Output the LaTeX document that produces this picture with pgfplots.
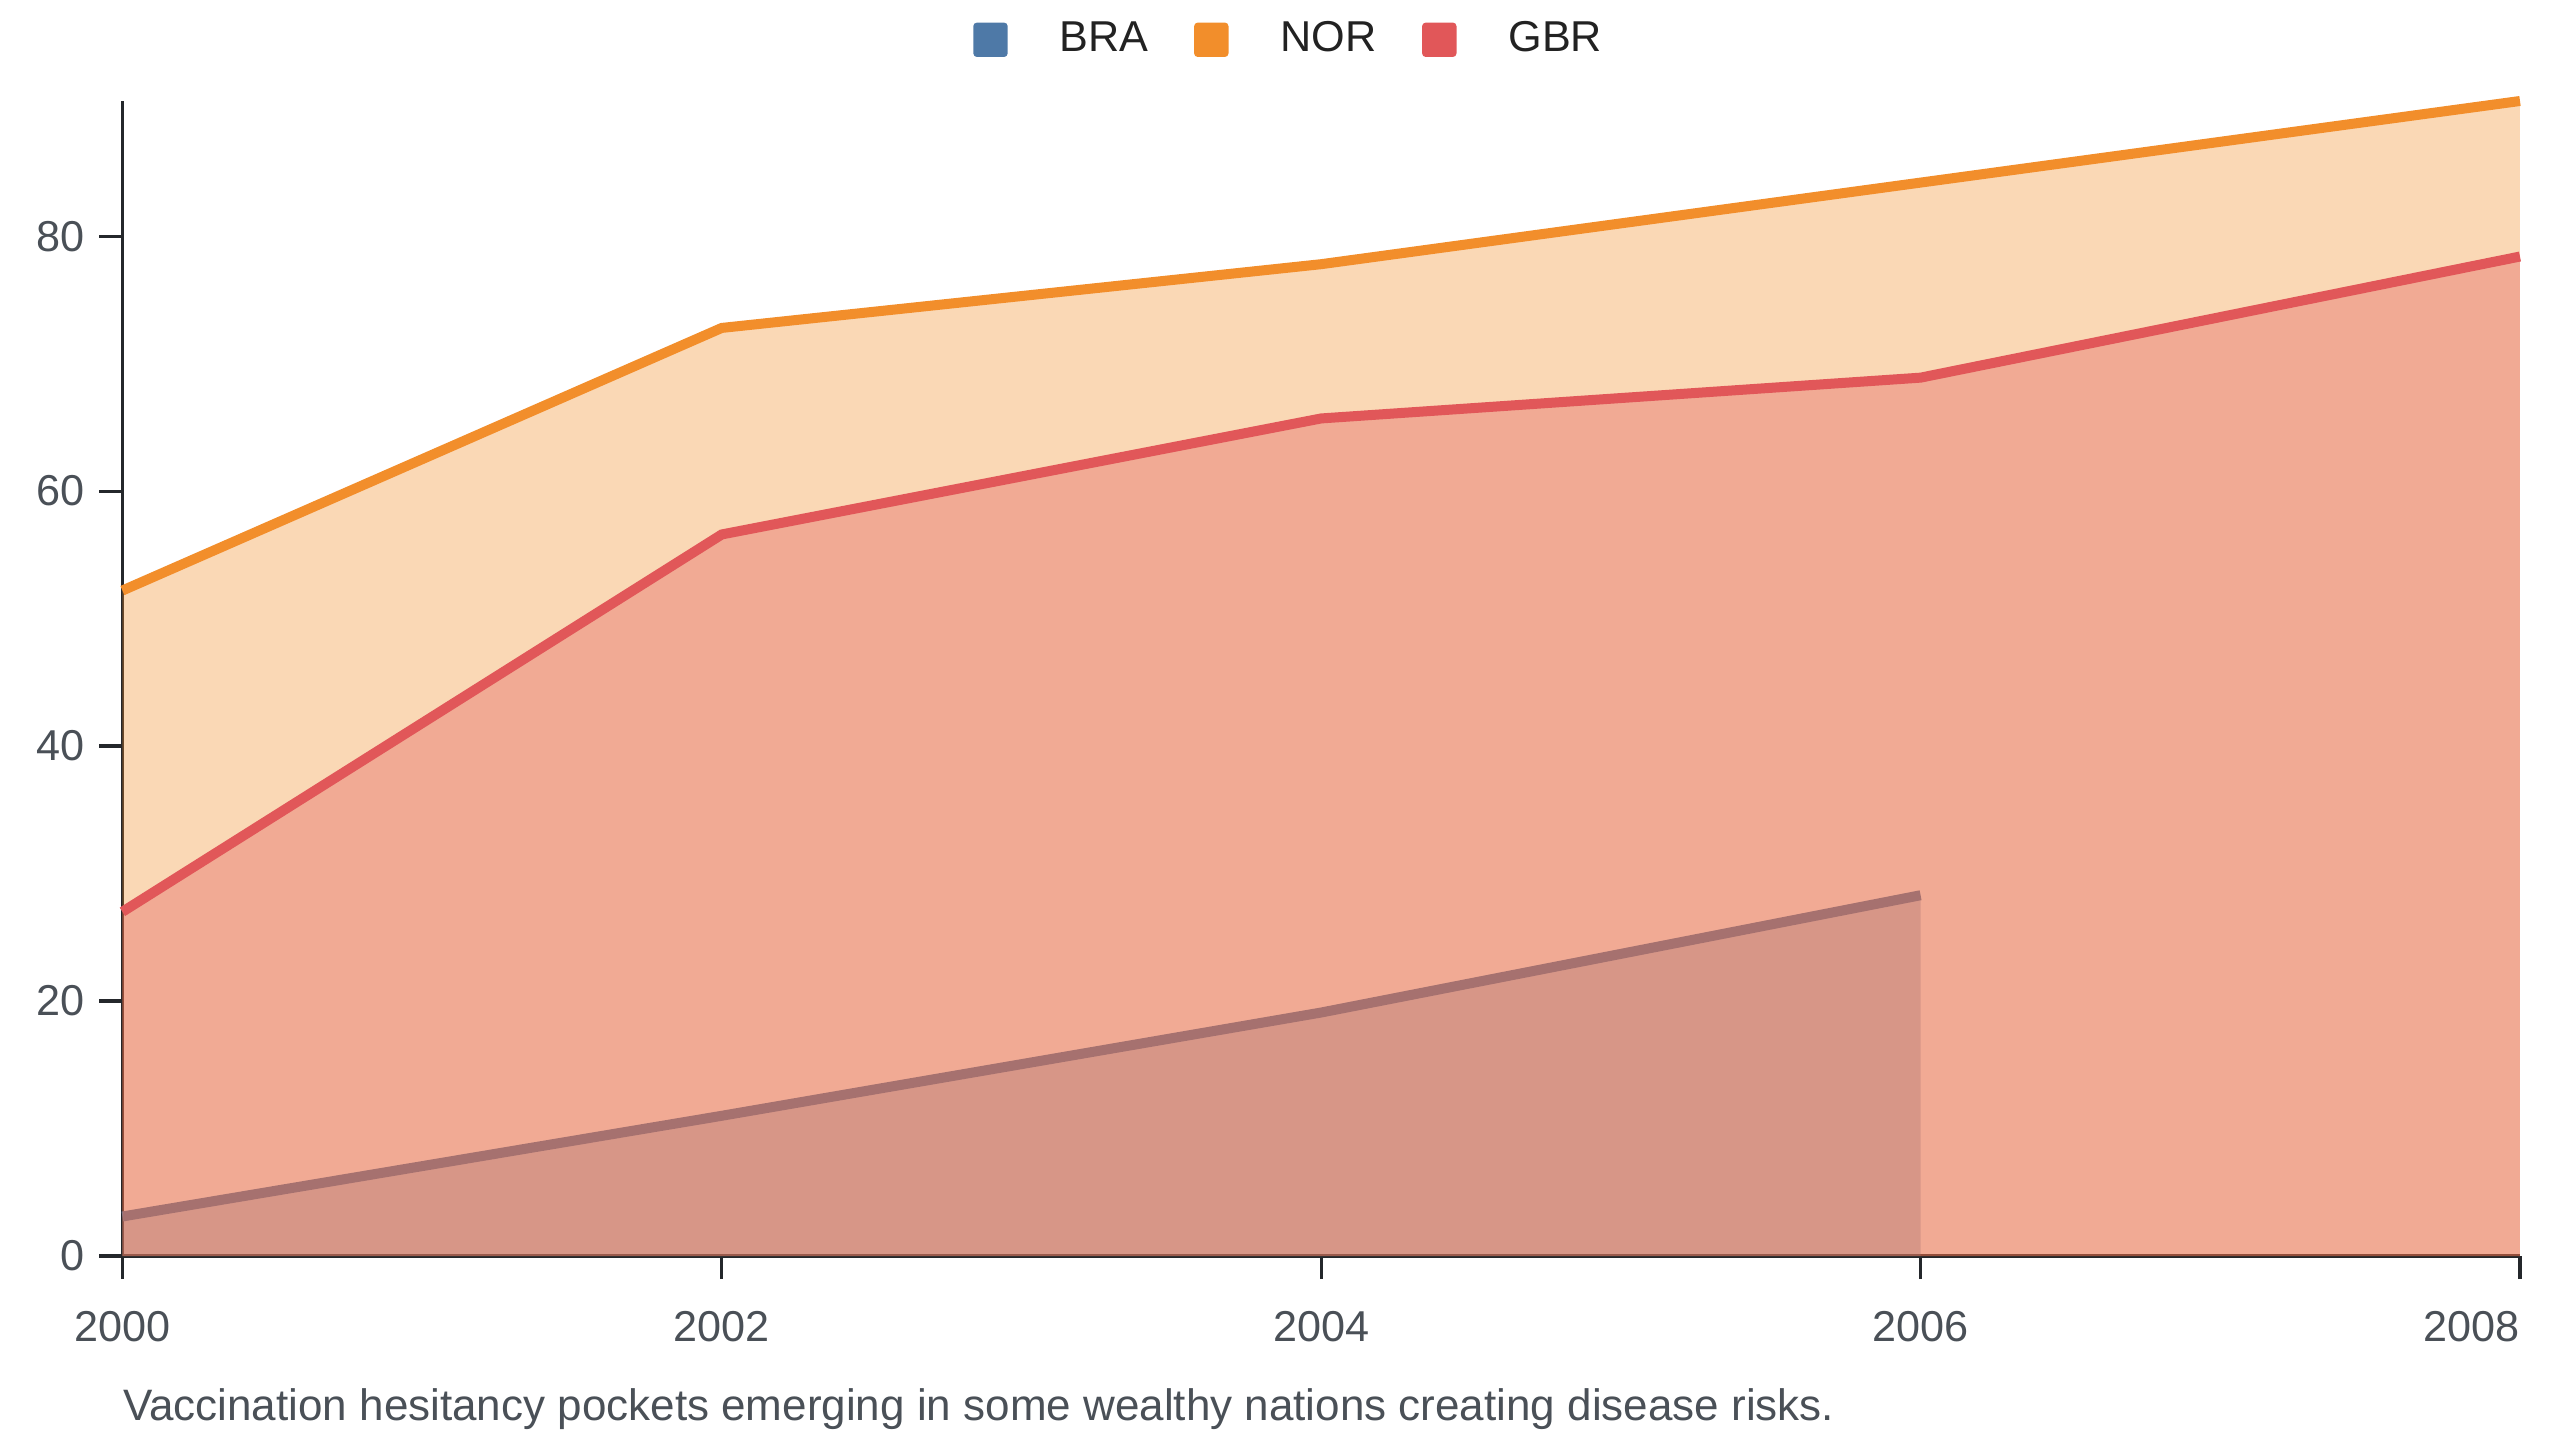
\documentclass[border=0pt]{standalone}
\usepackage{fontspec}
\setmainfont{Liberation Sans}
\usepackage{pgfplots}
\pgfplotsset{compat=1.18}
\definecolor{cBRA}{HTML}{4E79A7}
\definecolor{cNOR}{HTML}{F28E2B}
\definecolor{cGBR}{HTML}{E15759}
\definecolor{axc}{HTML}{24272B}
\definecolor{txt}{HTML}{4A5057}
\definecolor{legtxt}{HTML}{222222}
\begin{document}
\fontsize{10.8}{13}\selectfont
\begin{tikzpicture}
\useasboundingbox (0,0) rectangle (640pt,360pt);
\begin{axis}[
  at={(30.6pt,46pt)}, anchor=south west,
  scale only axis, width=599.4pt, height=288.75pt,
  xmin=2000, xmax=2008, ymin=0, ymax=90.6,
  axis x line*=bottom, axis y line*=left,
  axis line style={axc, line width=0.8pt, -},
  xtick={2000,2002,2004,2006},
  extra x ticks={2008},
  extra x tick style={xticklabel style={anchor=north east, xshift=3.6pt}},
  ytick={0,20,40,60,80},
  tick align=outside,
  major tick length=5.75pt,
  tick style={axc, line width=0.8pt},
  /pgf/number format/assume math mode=true,
  /pgf/number format/1000 sep={},
  ticklabel style={font=\fontsize{10.8}{13}\selectfont, text=txt},
  xticklabel style={yshift=-4.25pt},
  clip=false,
  legend columns=3,
  legend style={draw=none, fill=none, at={(0.4877,1.053)}, anchor=center,
    font=\fontsize{10.8}{13}\selectfont, text=legtxt,
    /tikz/every odd column/.style={column sep=11pt},
    /tikz/every even column/.style={column sep=9.4pt}},
  legend image code/.code={\fill[fill opacity=1, draw=none, rounded corners=0.9pt] (0pt,-4.3pt) rectangle (8.6pt,4.3pt);},
]
% BRA
\addplot[fill=cBRA, fill opacity=0.35, draw=none] coordinates {(2000,3.1) (2002,11.0) (2004,19.1) (2006,28.3)} \closedcycle;
\addlegendentry{BRA}
\addplot[cBRA, line width=2.5pt, forget plot] coordinates {(2000,3.1) (2002,11.0) (2004,19.1) (2006,28.3)};
% NOR
\addplot[fill=cNOR, fill opacity=0.35, draw=none] coordinates {(2000,52.2) (2002,72.8) (2004,77.8) (2006,84.2) (2008,90.6)} \closedcycle;
\addlegendentry{NOR}
\addplot[cNOR, line width=2.5pt, forget plot] coordinates {(2000,52.2) (2002,72.8) (2004,77.8) (2006,84.2) (2008,90.6)};
% GBR
\addplot[fill=cGBR, fill opacity=0.35, draw=none] coordinates {(2000,27.0) (2002,56.6) (2004,65.7) (2006,68.9) (2008,78.4)} \closedcycle;
\addlegendentry{GBR}
\addplot[cGBR, line width=2.5pt, forget plot] coordinates {(2000,27.0) (2002,56.6) (2004,65.7) (2006,68.9) (2008,78.4)};
\end{axis}
\node[anchor=base west, inner sep=0pt, text=txt, font=\fontsize{11}{13}\selectfont] at (30.6pt,5pt) {Vaccination hesitancy pockets emerging in some wealthy nations creating disease risks.};
\end{tikzpicture}
\end{document}
